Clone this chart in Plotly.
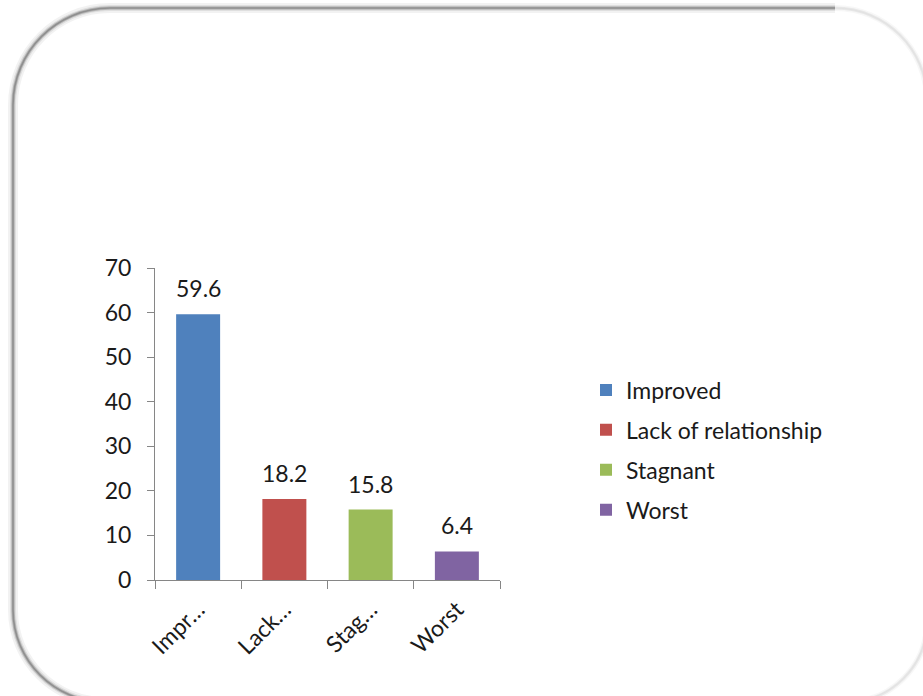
import plotly.graph_objects as go

# Survey outcome shares (%)
categories = ["Impr…", "Lack…", "Stag…", "Worst"]
series_names = ["Improved", "Lack of relationship", "Stagnant", "Worst"]
values = [59.6, 18.2, 15.8, 6.4]
colors = ["#4F81BD", "#C0504D", "#9BBB59", "#8064A2"]
y_ticks = [0, 10, 20, 30, 40, 50, 60, 70]

W, H = 923, 696
L, R, T, B = 155, 500, 268, 580  # plot area in pixels

FONT = "Lato, 'Open Sans', sans-serif"
FS = 23
TXT = "#1a1a1a"
AXIS = "#868686"


def px(x):
    return (x - L) / (R - L)


def py(y):
    return (B - y) / (B - T)


def pt(x, y):
    return f"{px(x):.5f},{py(y):.5f}"


fig = go.Figure()
for cat, name, val, col in zip(categories, series_names, values, colors):
    fig.add_trace(go.Bar(
        x=[cat], y=[val], name=name, legendgroup=name,
        marker=dict(color=col, line=dict(width=0)),
        width=0.51,
    ))
    # value label floating above each bar
    fig.add_annotation(
        x=cat, y=val, text=f"{val:g}", showarrow=False,
        yanchor="bottom", yshift=10,
        font=dict(family=FONT, size=FS, color=TXT),
    )

# Rounded card frame with a soft drop shadow
lf, tp, rt, bt = 13, 8, 927, 702
r_tl, r_tr, r_br, r_bl = 97, 92, 80, 92
k = 0.45
dark_path = (
    f"M {pt(rt - r_tr, tp)} L {pt(lf + r_tl, tp)} "
    f"C {pt(lf + r_tl * k, tp)} {pt(lf, tp + r_tl * k)} {pt(lf, tp + r_tl)} "
    f"L {pt(lf, bt - r_bl)} "
    f"C {pt(lf, bt - r_bl * k)} {pt(lf + r_bl * k, bt)} {pt(lf + r_bl, bt)}"
)
light_path = (
    f"M {pt(rt - r_tr, tp)} "
    f"C {pt(rt - r_tr * k, tp)} {pt(rt, tp + r_tr * k)} {pt(rt, tp + r_tr)} "
    f"L {pt(rt, bt - r_br)} "
    f"C {pt(rt, bt - r_br * k)} {pt(rt - r_br * k, bt)} {pt(rt - r_br, bt)} "
    f"L {pt(lf + r_bl, bt)}"
)
shapes = []
for w, a in [(10, 0.05), (6, 0.08), (3.5, 0.18)]:
    shapes.append(dict(type="path", path=dark_path, xref="paper", yref="paper",
                       line=dict(color=f"rgba(0,0,0,{a})", width=w), layer="below"))
shapes.append(dict(type="path", path=dark_path, xref="paper", yref="paper",
                   line=dict(color="#8f8f8f", width=1.6), layer="below"))
for w, a in [(6, 0.03), (3, 0.06)]:
    shapes.append(dict(type="path", path=light_path, xref="paper", yref="paper",
                       line=dict(color=f"rgba(0,0,0,{a})", width=w), layer="below"))
shapes.append(dict(type="path", path=light_path, xref="paper", yref="paper",
                   line=dict(color="#e2e2e2", width=1), layer="below"))

fig.update_layout(
    width=W, height=H,
    margin=dict(l=L, r=W - R, t=T, b=H - B, autoexpand=False),
    paper_bgcolor="white", plot_bgcolor="rgba(0,0,0,0)",
    barmode="overlay",
    showlegend=True,
    font=dict(family=FONT, size=FS, color=TXT),
    shapes=shapes,
    legend=dict(
        x=px(586), y=py(450), xanchor="left", yanchor="middle",
        font=dict(family=FONT, size=FS, color=TXT),
        tracegroupgap=7, itemwidth=30,
        bgcolor="rgba(0,0,0,0)",
    ),
    xaxis=dict(
        type="category", categoryorder="array", categoryarray=categories,
        showline=True, linecolor=AXIS, linewidth=1,
        ticks="outside", tickson="boundaries", ticklen=8, tickcolor=AXIS,
        tickangle=-45, showgrid=False, zeroline=False,
        tickfont=dict(family=FONT, size=FS, color=TXT),
        ticklabelstandoff=6,
        range=[-0.5, 3.5],
    ),
    yaxis=dict(
        range=[0, 70], tickvals=y_ticks,
        showline=True, linecolor=AXIS, linewidth=1,
        ticks="outside", ticklen=7, tickcolor=AXIS,
        showgrid=False, zeroline=False,
        tickfont=dict(family=FONT, size=FS, color=TXT),
        ticklabelstandoff=11,
    ),
)

fig.write_html("out.html")
